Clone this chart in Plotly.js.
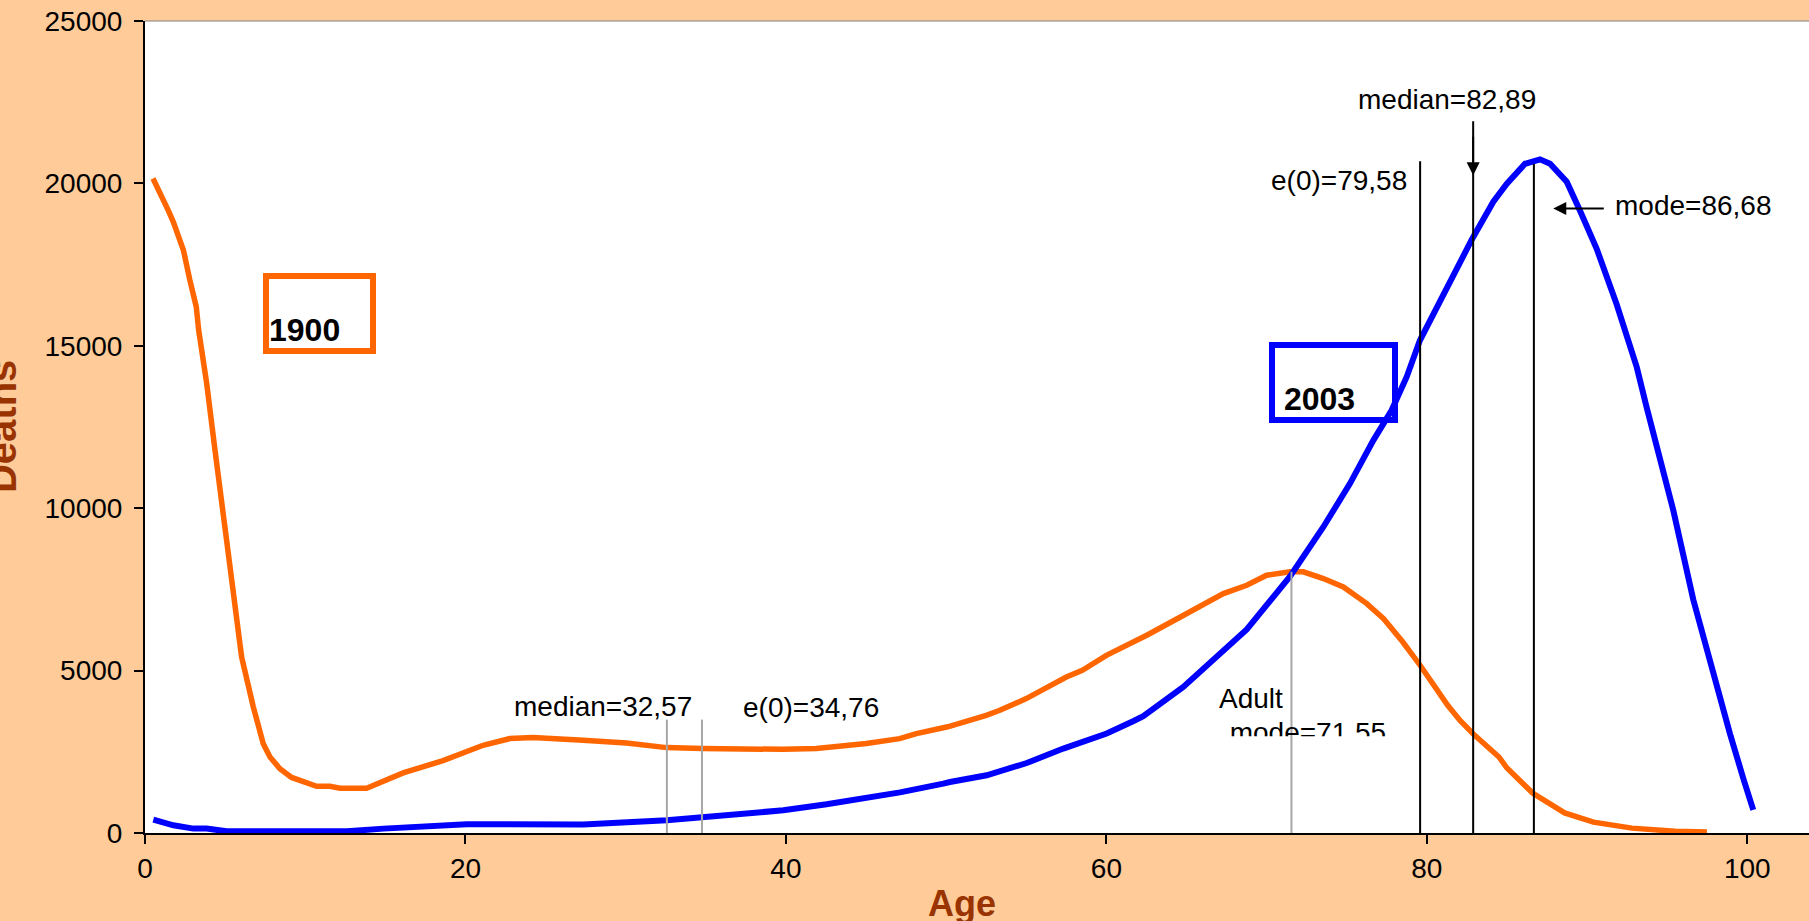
<!DOCTYPE html>
<html>
<head>
<meta charset="utf-8">
<script src="https://cdn.plot.ly/plotly-3.0.1.min.js"></script>
<style>
  html, body { margin: 0; padding: 0; background: #FFCC99; }
  #chart { width: 1809px; height: 921px; }
</style>
</head>
<body>
<div id="chart"></div>
<script>
// ---- Data ----
const ages1900 = [0.5, 1.0, 1.45, 1.77, 2.0, 2.4, 2.8, 3.2, 3.35, 3.85, 4.37, 4.88, 5.41, 5.93, 6.03, 6.76, 7.38, 7.8, 8.42, 9.15, 9.88, 10.71, 11.54, 12.17, 13.83, 14.66, 16.11, 18.6, 20.1, 21.1, 22.77, 24.22, 27.34, 30.05, 32.55, 34.77, 39.82, 41.9, 45.02, 47.1, 48.14, 50.1, 52.5, 53.35, 55.0, 57.5, 58.5, 60.0, 62.52, 63.55, 64.82, 67.3, 68.76, 70.0, 71.46, 72.29, 73.54, 74.79, 76.25, 77.3, 78.5, 79.6, 81.3, 82.07, 82.9, 84.5, 85.0, 86.6, 88.6, 90.4, 92.8, 95.5, 97.48];
const deaths1900 = [20150, 19580, 19170, 18810, 18450, 17940, 17020, 16200, 15480, 13840, 11780, 9730, 7680, 5830, 5420, 3880, 2750, 2340, 1980, 1710, 1570, 1440, 1440, 1380, 1380, 1540, 1850, 2230, 2500, 2700, 2906, 2937, 2854, 2771, 2629, 2599, 2577, 2599, 2753, 2906, 3060, 3270, 3624, 3778, 4138, 4803, 5010, 5471, 6087, 6343, 6703, 7371, 7627, 7935, 8040, 8040, 7833, 7574, 7063, 6600, 5880, 5150, 3930, 3467, 3050, 2340, 2000, 1230, 620, 335, 150, 52, 30];

const ages2003 = [0.52, 1.77, 3.02, 3.85, 5.1, 12.6, 14.88, 17.16, 20.08, 22.15, 27.35, 32.56, 34.78, 39.84, 42.54, 46.08, 47.12, 49.82, 50.24, 52.53, 55.03, 57.31, 60.02, 61.7, 62.3, 64.8, 66.67, 68.76, 71.46, 73.54, 75.2, 76.25, 76.66, 77.8, 78.74, 79.57, 80.4, 81.13, 81.96, 82.8, 84.15, 84.98, 86.13, 87.06, 87.69, 88.73, 89.56, 90.6, 91.85, 93.1, 93.72, 95.38, 96.63, 97.88, 98.92, 99.75, 100.37];
const deaths2003 = [412, 237, 135, 135, 52, 52, 135, 206, 268, 268, 260, 391, 493, 699, 884, 1150, 1250, 1521, 1570, 1777, 2155, 2599, 3061, 3450, 3600, 4495, 5318, 6270, 7900, 9422, 10758, 11783, 12090, 13015, 14040, 15170, 15990, 16700, 17440, 18265, 19435, 19986, 20605, 20740, 20605, 20054, 19158, 17988, 16270, 14342, 13101, 9936, 7183, 4843, 3054, 1678, 714];

// Summary measures (age) and the height each marker line reaches (deaths)
const statNames  = ['median 1900', 'e(0) 1900', 'adult mode 1900', 'e(0) 2003', 'median 2003', 'mode 2003'];
const statAges   = [32.57, 34.76, 71.55, 79.58, 82.89, 86.68];
const statTops   = [3490, 3490, 8040, 20680, 21910, 20600];
const statColors = ['#A6A6A6', '#A6A6A6', '#A6A6A6', '#000000', '#000000', '#000000'];

const xTicks = [0, 20, 40, 60, 80, 100];
const yTicks = [0, 5000, 10000, 15000, 20000, 25000];
const xMax = 103.85, yMax = 25000;

// ---- Styles ----
const FONT = 'Arial, "Liberation Sans", Helvetica, sans-serif';
const BROWN = '#993300';

const traces = [
  {x: ages1900, y: deaths1900, type: 'scatter', mode: 'lines', name: '1900',
   line: {color: '#FF6600', width: 5.5}, hoverinfo: 'x+y'},
  {x: ages2003, y: deaths2003, type: 'scatter', mode: 'lines', name: '2003',
   line: {color: '#0000FF', width: 6}, hoverinfo: 'x+y'}
];
statAges.forEach((a, i) => {
  traces.push({x: [a, a], y: [0, statTops[i]], type: 'scatter', mode: 'lines',
    name: statNames[i], line: {color: statColors[i], width: 2}, hoverinfo: 'name'});
});

// Clipped second line of the "Adult mode" label (cut off in the original)
const clipX = [65, 80], clipY = [2977, 3500];
traces.push({x: [72.58], y: [3008], type: 'scatter', mode: 'text', text: ['mode=71,55'],
  textposition: 'middle center', textfont: {family: FONT, size: 28, color: '#000'},
  xaxis: 'x2', yaxis: 'y2', cliponaxis: true, hoverinfo: 'skip'});

const ann = (text, x, y, extra) => Object.assign({text, x, y, xref: 'x', yref: 'y',
  showarrow: false, font: {family: FONT, size: 28, color: '#000'}}, extra || {});

const annotations = [
  ann('median=32,57', 28.6, 3900),
  ann('e(0)=34,76', 41.57, 3870),
  ann('Adult', 69.0, 4132),
  ann('e(0)=79,58', 74.49, 20097),
  ann('median=82,89', 81.26, 22591),
  ann('mode=86,68', 91.62, 19322, {xanchor: 'left'}),
  // arrows
  {x: 82.89, y: 20250, xref: 'x', yref: 'y', text: '', showarrow: true, ax: 0, ay: -40,
   arrowhead: 2, arrowsize: 1.3, arrowwidth: 2, arrowcolor: '#000', standoff: 0},
  {x: 87.89, y: 19229, xref: 'x', yref: 'y', text: '', showarrow: true, ax: 52, ay: 0,
   arrowhead: 2, arrowsize: 1.3, arrowwidth: 2, arrowcolor: '#000', standoff: 0},
  // year boxes
  ann('1900', 10.87, 15986, {width: 101, height: 69, align: 'left', valign: 'bottom',
    bordercolor: '#FF6600', borderwidth: 6, borderpad: 0,
    font: {family: FONT, size: 32, color: '#000', weight: 'bold'}}),
  ann('\u00a02003', 74.17, 13862, {width: 117, height: 69, align: 'left', valign: 'bottom',
    bordercolor: '#0000FF', borderwidth: 6, borderpad: 0,
    font: {family: FONT, size: 32, color: '#000', weight: 'bold'}}),
  // axis titles
  {text: 'Age', xref: 'paper', yref: 'paper', x: 0.4907, y: -0.0866, showarrow: false,
   xanchor: 'center', yanchor: 'middle',
   font: {family: FONT, size: 36, color: BROWN, weight: 'bold'}},
  {text: 'Deaths', xref: 'paper', yref: 'paper', x: -0.0859, y: 0.5, showarrow: false,
   xanchor: 'center', yanchor: 'middle', textangle: -90,
   font: {family: FONT, size: 40, color: BROWN, weight: 'bold'}}
];

const layout = {
  width: 1809, height: 921,
  margin: {l: 145, r: 0, t: 20.7, b: 88.3, pad: 0},
  paper_bgcolor: '#FFCC99', plot_bgcolor: 'rgba(0,0,0,0)',
  showlegend: false,
  font: {family: FONT, size: 28, color: '#000'},
  xaxis: {range: [0, xMax], tickvals: xTicks, ticktext: xTicks.map(String),
    showgrid: false, zeroline: false, showline: true, linecolor: '#000', linewidth: 2,
    ticks: 'outside', ticklen: 9, tickwidth: 1.5, tickcolor: '#000',
    tickfont: {family: FONT, size: 28, color: '#000'}, fixedrange: true},
  yaxis: {range: [0, yMax], tickvals: yTicks, ticktext: yTicks.map(String),
    showgrid: false, zeroline: false, showline: true, linecolor: '#000', linewidth: 2,
    ticks: 'outside', ticklen: 9, tickwidth: 1.5, tickcolor: '#000', ticklabelstandoff: 6,
    tickfont: {family: FONT, size: 28, color: '#000'}, fixedrange: true},
  xaxis2: {domain: [clipX[0] / xMax, clipX[1] / xMax], range: clipX, visible: false,
    anchor: 'y2', fixedrange: true},
  yaxis2: {domain: [clipY[0] / yMax, clipY[1] / yMax], range: clipY, visible: false,
    anchor: 'x2', fixedrange: true},
  shapes: [
    {type: 'rect', xref: 'paper', yref: 'paper', x0: 0, x1: 1, y0: 0, y1: 1, layer: 'below',
     fillcolor: '#FFFFFF', line: {width: 0}},
    {type: 'line', xref: 'paper', yref: 'paper', x0: 0, x1: 1, y0: 1, y1: 1,
     line: {color: '#808080', width: 1}}
  ],
  annotations: annotations
};

Plotly.newPlot('chart', traces, layout, {displayModeBar: false, responsive: false});
</script>
</body>
</html>
